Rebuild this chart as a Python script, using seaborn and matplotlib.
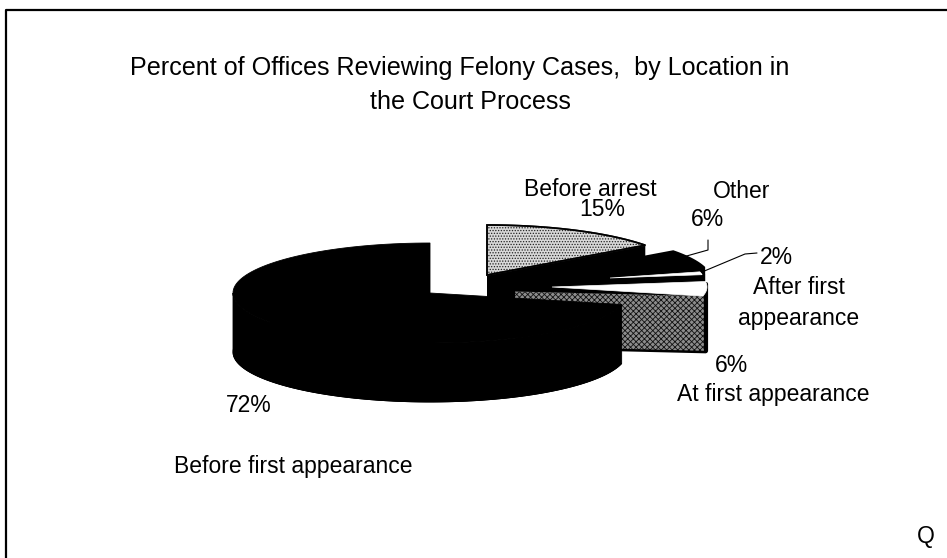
# Importing Libraries
import numpy as np
import matplotlib
matplotlib.use('Agg')
import matplotlib.pyplot as plt
import seaborn as sns

# Slices in the order they run clockwise from 12 o'clock
categories = ['Before arrest', 'Other', 'After first appearance', 'At first appearance', 'Before first appearance']
percents = [15, 6, 2, 6, 72]
title_lines = ['Percent of Offices Reviewing Felony Cases,  by Location in', 'the Court Process']

sns.set_theme(style='white')
plt.rcParams['font.family'] = ['Liberation Sans', 'DejaVu Sans']
plt.rcParams['hatch.linewidth'] = 0.6

# Working out the start and end angle of every slice
sweeps = np.array(percents) / sum(percents) * 360
ends = 90 - np.cumsum(sweeps)
starts = ends + sweeps
angles = {c: (s, e) for c, s, e in zip(categories, starts, ends)}

fig, ax = plt.subplots(figsize=(9.47, 5.58), dpi=100)
ax.set_position([0, 0, 1, 1])
ax.set_xlim(0, 947)
ax.set_ylim(558, 0)
ax.axis('off')

# Page frame of the scanned figure, only left and top are visible
frame_x = [6, 6, 947]
frame_y = [558, 10, 10]
ax.plot(frame_x, frame_y, color='black', lw=1.6)

# Point list for an arc of the pie (y axis points down)
def arc(cx, cy, a, b, start, end):
    t = np.radians(np.linspace(start, end, 120))
    return cx + a * np.cos(t), cy - b * np.sin(t)

# Function definition for a whole extruded slice, small slices only
def solid(cx, cy, a, b, start, end, depth, color, z):
    x, y = arc(cx, cy, a, b, start, end)
    ax.fill(np.r_[cx, x, x[-1], cx], np.r_[cy, y, y[-1] + depth, cy + depth],
            facecolor=color, lw=0, zorder=z)

# Function definition for the top face of a slice
def top(cx, cy, a, b, start, end, color, hatch=None, z=2, edge='black', lw=1.2):
    x, y = arc(cx, cy, a, b, start, end)
    ax.fill(np.r_[cx, x], np.r_[cy, y], facecolor=color, edgecolor=edge, hatch=hatch, lw=lw, zorder=z)

# Pie shape
A, B, DEPTH = 197, 50, 56

# Before arrest, dotted top
s, e = angles['Before arrest']
solid(487, 275, A, B, s, e, DEPTH, 'black', 1)
top(487, 275, A, B, s, e, '#d8d8d8', hatch='......', z=2, edge='#222222')
top(487, 275, A, B, s, e, 'none', z=2)

# Other, all black
s, e = angles['Other']
solid(515, 280, A, B, s, e, DEPTH, 'black', 3)

# After first appearance, black with a thin white top
s, e = angles['After first appearance']
solid(510, 281, A, B, s, e, 30, 'black', 4)
top(610, 278, 93, 93 * B / A, s, e, 'white', z=5, edge='white', lw=0.5)

# At first appearance, white top and mottled grey walls
s, e = angles['At first appearance']
a2, b2 = 155, 155 * B / A
x_rim, y_rim = arc(552, 287, a2, b2, s, e)
wall_x = np.r_[515, x_rim[-1], x_rim[::-1], x_rim, x_rim[-1], 515]
wall_y = np.r_[291.5, y_rim[-1], y_rim[::-1], y_rim + DEPTH, y_rim[-1] + DEPTH, 291.5 + DEPTH]
ax.fill(wall_x, wall_y, facecolor='#8c8c8c', edgecolor='#111111', hatch='xxxxxx', lw=0, zorder=5)
ax.plot([515, x_rim[-1] + 3], [291.5 + DEPTH, y_rim[-1] + DEPTH], color='black', lw=1.8, zorder=5)
ax.plot([x_rim[-1] + 3, x_rim[-1] + 3], [y_rim[0] + 2, y_rim[-1] + DEPTH - 1], color='black', lw=3, zorder=6)
top(552, 287, a2, b2, s, e, 'white', z=6, edge='white', lw=0.5)

# Before first appearance, the big black slice on top of everything
s, e = angles['Before first appearance']
top(430, 293, A, B, s, e, 'black', z=7, lw=0.6)
top(430, 293 + DEPTH + 3, A, B, s, e, 'black', z=7, lw=0.6)
x_low, y_low = arc(430, 293, A, B, s, -180)
ax.fill(np.r_[x_low, x_low[::-1]], np.r_[y_low, y_low[::-1] + DEPTH + 3], facecolor='black', edgecolor='black', lw=0.6, zorder=7)

# Leader lines
ax.plot([708, 708, 683], [240, 250, 257], color='black', lw=0.8, zorder=8)
ax.plot([757, 745, 702], [253, 254, 272], color='black', lw=0.8, zorder=8)

# Title and labels
ax.text(460, 75, title_lines[0], ha='center', va='baseline', fontsize=18.1, color='black')
ax.text(470, 109, title_lines[1], ha='center', va='baseline', fontsize=18.1, color='black')

labels = [('Before arrest', 590, 189), ('15%', 602, 210), ('Other', 742, 191), ('6%', 707, 220),
          ('2%', 776, 258), ('After first', 799, 288), ('appearance', 799, 318), ('6%', 732, 365),
          ('At first appearance', 773, 394), ('72%', 249, 405), ('Before first appearance', 293, 466),
          ('Q', 926, 537)]
for text, x, y in labels:
    ax.text(x, y, text, ha='center', va='center', fontsize=16.5, color='black', zorder=9)

fig.savefig('out.png', dpi=100)
